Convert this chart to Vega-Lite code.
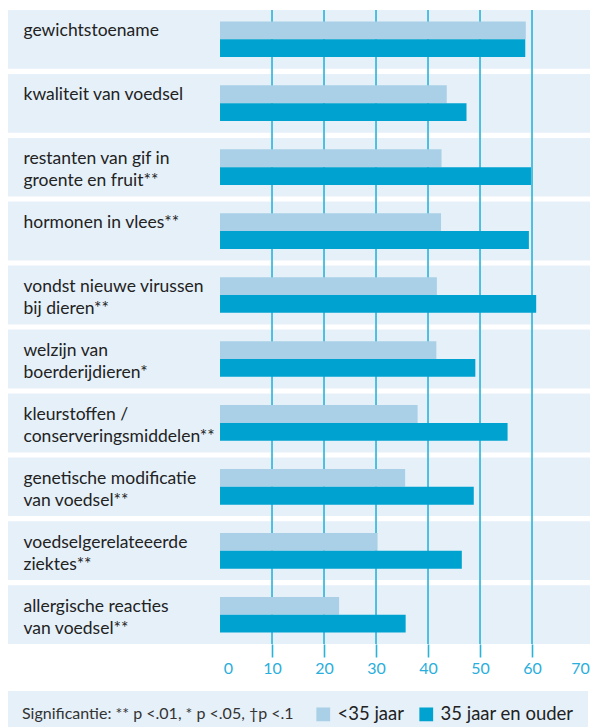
{
  "$schema": "https://vega.github.io/schema/vega-lite/v6.json",
  "width": 582,
  "height": 634,
  "autosize": "none",
  "padding": {"left": 8, "top": 10, "right": 0, "bottom": 83},
  "background": "white",
  "config": {"font": "Lato", "view": {"stroke": null}},
  "datasets": {
    "scores": [
      {"cat": "gewichtstoename", "groep": "<35 jaar", "pct": 58.8},
      {"cat": "gewichtstoename", "groep": "35 jaar en ouder", "pct": 58.7},
      {"cat": "kwaliteit van voedsel", "groep": "<35 jaar", "pct": 43.6},
      {"cat": "kwaliteit van voedsel", "groep": "35 jaar en ouder", "pct": 47.4},
      {"cat": "restanten van gif in|groente en fruit**", "groep": "<35 jaar", "pct": 42.6},
      {"cat": "restanten van gif in|groente en fruit**", "groep": "35 jaar en ouder", "pct": 59.8},
      {"cat": "hormonen in vlees**", "groep": "<35 jaar", "pct": 42.5},
      {"cat": "hormonen in vlees**", "groep": "35 jaar en ouder", "pct": 59.4},
      {"cat": "vondst nieuwe virussen|bij dieren**", "groep": "<35 jaar", "pct": 41.7},
      {"cat": "vondst nieuwe virussen|bij dieren**", "groep": "35 jaar en ouder", "pct": 60.8},
      {"cat": "welzijn van|boerderijdieren*", "groep": "<35 jaar", "pct": 41.6},
      {"cat": "welzijn van|boerderijdieren*", "groep": "35 jaar en ouder", "pct": 49.1},
      {"cat": "kleurstoffen /|conserveringsmiddelen**", "groep": "<35 jaar", "pct": 38.0},
      {"cat": "kleurstoffen /|conserveringsmiddelen**", "groep": "35 jaar en ouder", "pct": 55.3},
      {"cat": "genetische modificatie|van voedsel**", "groep": "<35 jaar", "pct": 35.6},
      {"cat": "genetische modificatie|van voedsel**", "groep": "35 jaar en ouder", "pct": 48.8},
      {"cat": "voedselgerelateeerde|ziektes**", "groep": "<35 jaar", "pct": 30.3},
      {"cat": "voedselgerelateeerde|ziektes**", "groep": "35 jaar en ouder", "pct": 46.5},
      {"cat": "allergische reacties|van voedsel**", "groep": "<35 jaar", "pct": 22.9},
      {"cat": "allergische reacties|van voedsel**", "groep": "35 jaar en ouder", "pct": 35.7}
    ],
    "grid": [{"v": 10}, {"v": 20}, {"v": 30}, {"v": 40}, {"v": 50}, {"v": 60}]
  },
  "layer": [
    {
      "data": {"name": "scores"},
      "mark": {"type": "rect", "color": "#e5f0f9"},
      "encoding": {
        "y": {
          "field": "cat",
          "type": "nominal",
          "sort": null,
          "scale": {"paddingInner": 0.086, "paddingOuter": 0},
          "axis": {
            "title": null,
            "domain": false,
            "ticks": false,
            "tickSize": 0,
            "orient": "left",
            "labelAlign": "left",
            "labelBaseline": "alphabetic",
            "labelPadding": -15,
            "labelOffset": -3,
            "labelLimit": 0,
            "labelFontSize": 17.5,
            "labelLineHeight": 22,
            "labelColor": "#222222",
            "labelExpr": "split(datum.label, '|')",
            "zindex": 1
          }
        }
      }
    },
    {
      "data": {"name": "grid"},
      "mark": {"type": "rule", "color": "#2ab3d9", "strokeWidth": 1.6},
      "encoding": {
        "x": {"field": "v", "type": "quantitative", "scale": {"domain": [-40.77, 71.15], "nice": false, "zero": false}}
      }
    },
    {
      "data": {"name": "scores"},
      "mark": {"type": "bar"},
      "encoding": {
        "y": {"field": "cat", "type": "nominal", "sort": null},
        "x": {
          "field": "pct",
          "type": "quantitative",
          "stack": null,
          "scale": {"domain": [-40.77, 71.15], "nice": false, "zero": false},
          "axis": {
            "title": null,
            "values": [0, 10, 20, 30, 40, 50, 60, 70],
            "grid": false,
            "domain": false,
            "tickSize": 13,
            "tickWidth": 1.6,
            "tickColor": {"condition": {"test": "datum.value === 0 || datum.value === 70", "value": "transparent"}, "value": "#2ab3d9"},
            "labelOffset": {"condition": [{"test": "datum.value === 0", "value": 8}, {"test": "datum.value === 70", "value": -4}], "value": 0},
            "labelPadding": 3,
            "labelFontSize": 16,
            "labelColor": "#2aaedb"
          }
        },
        "yOffset": {
          "field": "groep",
          "type": "nominal",
          "sort": ["<35 jaar", "35 jaar en ouder"],
          "scale": {"paddingOuter": 0.64, "paddingInner": 0}
        },
        "color": {
          "field": "groep",
          "type": "nominal",
          "sort": ["<35 jaar", "35 jaar en ouder"],
          "scale": {"domain": ["<35 jaar", "35 jaar en ouder"], "range": ["#a9d0e7", "#00a3cf"]},
          "legend": {
            "orient": "none",
            "legendX": 0,
            "legendY": 681,
            "direction": "horizontal",
            "title": "Significantie: ** p <.01, * p <.05, †p <.1",
            "titleOrient": "left",
            "titleFontSize": 16,
            "titleFontWeight": "normal",
            "titleColor": "#333333",
            "titlePadding": 20,
            "titleLimit": 0,
            "fillColor": "#e5f0f9",
            "padding": 14,
            "symbolType": "square",
            "symbolSize": 190,
            "symbolStrokeWidth": 0,
            "labelFontSize": 18.5,
            "labelColor": "#222222",
            "labelOffset": 5,
            "columnPadding": 13,
            "labelLimit": 0
          }
        }
      }
    }
  ]
}
